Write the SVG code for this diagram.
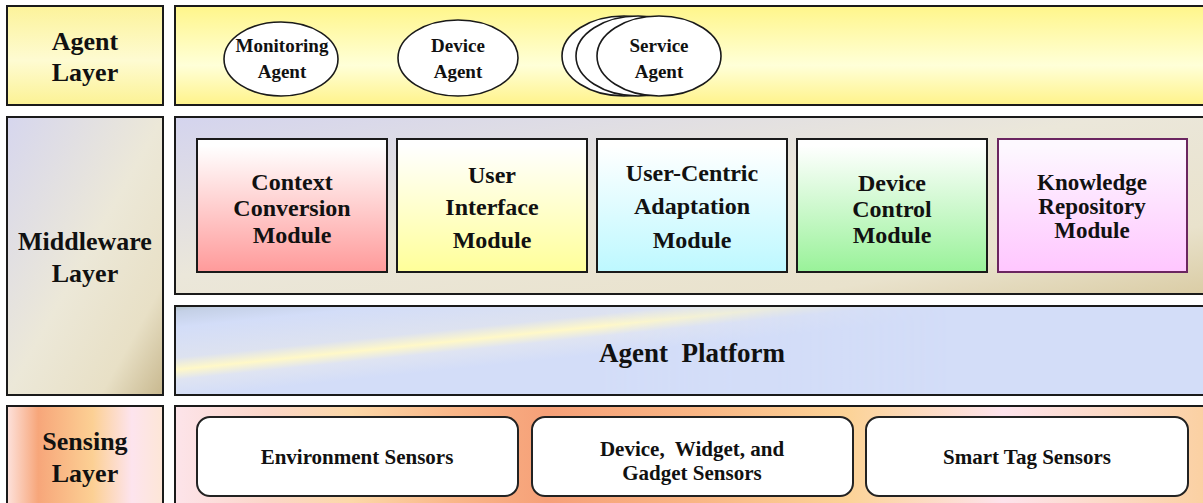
<svg xmlns="http://www.w3.org/2000/svg" width="1203" height="503" viewBox="0 0 1203 503">
<style>
text{font-family:"Liberation Serif","Times New Roman",serif;font-weight:bold;fill:#111;text-anchor:middle;white-space:pre}
.lay{font-size:26px}
.mod{font-size:24px}
.kmod{font-size:23px}
.ag{font-size:19px}
.sen{font-size:21px}
.plat{font-size:27px}
.panel{stroke:#1a1a1a;stroke-width:2}
.box{stroke:#1a1a1a;stroke-width:2}
.ell{fill:#fff;stroke:#1a1a1a;stroke-width:1.6}
.sbox{fill:#fff;stroke:#222;stroke-width:2}
</style>
<defs>
<linearGradient id="gAgentL" x1="0" y1="0" x2="0" y2="1">
<stop offset="0" stop-color="#fcf39a"/><stop offset="0.55" stop-color="#fefbd2"/><stop offset="1" stop-color="#fcf294"/>
</linearGradient>
<linearGradient id="gAgentR" x1="0" y1="0" x2="0" y2="1">
<stop offset="0" stop-color="#fff68a"/><stop offset="0.6" stop-color="#ffffd8"/><stop offset="1" stop-color="#fff38a"/>
</linearGradient>
<linearGradient id="gMidL" x1="0" y1="0" x2="1" y2="1">
<stop offset="0" stop-color="#d6d6ee"/><stop offset="0.5" stop-color="#ece8d8"/><stop offset="0.8" stop-color="#e8e0c6"/><stop offset="1" stop-color="#c8b88e"/>
</linearGradient>
<linearGradient id="gMidR" x1="0" y1="0" x2="1" y2="1">
<stop offset="0" stop-color="#d4d4ee"/><stop offset="0.45" stop-color="#ebe7da"/><stop offset="0.8" stop-color="#e9e2cc"/><stop offset="1" stop-color="#dacca4"/>
</linearGradient>
<linearGradient id="gPlat" gradientUnits="userSpaceOnUse" x1="150" y1="300" x2="160.2" y2="399.5">
<stop offset="0" stop-color="#8ea68e"/><stop offset="0.14" stop-color="#c4d0e6"/><stop offset="0.3" stop-color="#d3ddf8"/><stop offset="0.6" stop-color="#dde2f0"/><stop offset="0.72" stop-color="#fff8c8"/><stop offset="0.82" stop-color="#dfe4f2"/><stop offset="1" stop-color="#d3ddf8"/>
</linearGradient>
<linearGradient id="gFade" gradientUnits="userSpaceOnUse" x1="175" y1="0" x2="950" y2="0">
<stop offset="0" stop-color="#fff"/><stop offset="0.55" stop-color="#fff"/><stop offset="1" stop-color="#000"/>
</linearGradient>
<mask id="mFade"><rect x="175" y="306" width="1035" height="89" fill="url(#gFade)"/></mask>
<linearGradient id="gSenL" x1="0" y1="0" x2="1" y2="0">
<stop offset="0" stop-color="#fde2dc"/><stop offset="0.2" stop-color="#f7a67a"/><stop offset="0.55" stop-color="#fcd094"/><stop offset="0.8" stop-color="#fde4ee"/><stop offset="1" stop-color="#fde6d6"/>
</linearGradient>
<linearGradient id="gSenR" gradientUnits="userSpaceOnUse" x1="175" y1="0" x2="1210" y2="0">
<stop offset="0" stop-color="#fde4ea"/><stop offset="0.09" stop-color="#fbd6c8"/><stop offset="0.17" stop-color="#fcd8a8"/><stop offset="0.27" stop-color="#f9b688"/><stop offset="0.36" stop-color="#f6a078"/><stop offset="0.5" stop-color="#f9b584"/><stop offset="0.65" stop-color="#fcd397"/><stop offset="0.8" stop-color="#fde3ec"/><stop offset="1" stop-color="#fbd0a0"/>
</linearGradient>
<linearGradient id="gRed" x1="0" y1="0" x2="0" y2="1"><stop offset="0.05" stop-color="#ffffff"/><stop offset="1" stop-color="#ff9a9a"/></linearGradient>
<linearGradient id="gYel" x1="0" y1="0" x2="0" y2="1"><stop offset="0.05" stop-color="#ffffff"/><stop offset="1" stop-color="#ffff99"/></linearGradient>
<linearGradient id="gCyan" x1="0" y1="0" x2="0" y2="1"><stop offset="0.05" stop-color="#ffffff"/><stop offset="1" stop-color="#bdf8ff"/></linearGradient>
<linearGradient id="gGrn" x1="0" y1="0" x2="0" y2="1"><stop offset="0.05" stop-color="#ffffff"/><stop offset="1" stop-color="#99f299"/></linearGradient>
<linearGradient id="gPink" x1="0" y1="0" x2="0" y2="1"><stop offset="0.05" stop-color="#fdf8ff"/><stop offset="1" stop-color="#ffc6ff"/></linearGradient>
</defs>
<rect width="1203" height="503" fill="#fff"/>

<g id="agent-layer-label">
<rect class="panel" x="7" y="6" width="156" height="99" fill="url(#gAgentL)"/>
<text class="lay" x="85" y="50">Agent</text>
<text class="lay" x="85" y="81">Layer</text>
</g>
<g id="agent-layer-panel">
<rect class="panel" x="175" y="6" width="1040" height="99" fill="url(#gAgentR)"/>
</g>
<g id="monitoring-agent">
<ellipse class="ell" cx="281" cy="59" rx="57" ry="37"/>
<text class="ag" x="282" y="52">Monitoring</text>
<text class="ag" x="282" y="78">Agent</text>
</g>
<g id="device-agent">
<ellipse class="ell" cx="458" cy="58" rx="60" ry="38"/>
<text class="ag" x="458" y="52">Device</text>
<text class="ag" x="458" y="78">Agent</text>
</g>
<g id="service-agent">
<ellipse class="ell" cx="624" cy="56" rx="62" ry="40"/>
<ellipse class="ell" cx="638" cy="56" rx="62" ry="40"/>
<ellipse class="ell" cx="659" cy="56" rx="62" ry="40"/>
<text class="ag" x="659" y="52">Service</text>
<text class="ag" x="659" y="78">Agent</text>
</g>

<g id="middleware-layer-label">
<rect class="panel" x="7" y="117" width="156" height="278" fill="url(#gMidL)"/>
<text class="lay" x="85" y="250">Middleware</text>
<text class="lay" x="85" y="282">Layer</text>
</g>
<g id="middleware-panel">
<rect class="panel" x="175" y="117" width="1040" height="177" fill="url(#gMidR)"/>
</g>
<g id="context-conversion-module">
<rect class="box" x="197" y="139" width="190" height="133" fill="url(#gRed)"/>
<text class="mod" x="292" y="190">Context</text>
<text class="mod" x="292" y="216">Conversion</text>
<text class="mod" x="292" y="243">Module</text>
</g>
<g id="user-interface-module">
<rect class="box" x="397" y="139" width="190" height="133" fill="url(#gYel)"/>
<text class="mod" x="492" y="183">User</text>
<text class="mod" x="492" y="215">Interface</text>
<text class="mod" x="492" y="248">Module</text>
</g>
<g id="user-centric-adaptation-module">
<rect class="box" x="597" y="139" width="190" height="133" fill="url(#gCyan)"/>
<text class="mod" x="692" y="181">User-Centric</text>
<text class="mod" x="692" y="214">Adaptation</text>
<text class="mod" x="692" y="248">Module</text>
</g>
<g id="device-control-module">
<rect class="box" x="797" y="139" width="190" height="133" fill="url(#gGrn)"/>
<text class="mod" x="892" y="191">Device</text>
<text class="mod" x="892" y="217">Control</text>
<text class="mod" x="892" y="243">Module</text>
</g>
<g id="knowledge-repository-module">
<rect x="998" y="139" width="189" height="133" fill="url(#gPink)" stroke="#6b2560" stroke-width="2"/>
<text class="kmod" x="1092" y="190">Knowledge</text>
<text class="kmod" x="1092" y="214">Repository</text>
<text class="kmod" x="1092" y="238">Module</text>
</g>
<g id="agent-platform">
<rect x="175" y="306" width="1040" height="89" fill="#d3ddf8"/>
<rect x="175" y="306" width="1040" height="89" fill="url(#gPlat)" mask="url(#mFade)"/>
<rect class="panel" x="175" y="306" width="1040" height="89" fill="none"/>
<text class="plat" x="692" y="362" xml:space="preserve">Agent  Platform</text>
</g>

<g id="sensing-layer-label">
<rect class="panel" x="7" y="406" width="156" height="110" fill="url(#gSenL)"/>
<text class="lay" x="85" y="450">Sensing</text>
<text class="lay" x="85" y="482">Layer</text>
</g>
<g id="sensing-panel">
<rect class="panel" x="175" y="406" width="1040" height="110" fill="url(#gSenR)"/>
</g>
<g id="environment-sensors">
<rect class="sbox" x="197" y="417" width="321" height="79" rx="13"/>
<text class="sen" x="357" y="464">Environment Sensors</text>
</g>
<g id="device-widget-gadget-sensors">
<rect class="sbox" x="532" y="417" width="321" height="79" rx="13"/>
<text class="sen" x="692" y="456" xml:space="preserve">Device,  Widget, and</text>
<text class="sen" x="692" y="480">Gadget Sensors</text>
</g>
<g id="smart-tag-sensors">
<rect class="sbox" x="866" y="417" width="322" height="79" rx="13"/>
<text class="sen" x="1027" y="464">Smart Tag Sensors</text>
</g>
<g id="connectors"/>
</svg>
